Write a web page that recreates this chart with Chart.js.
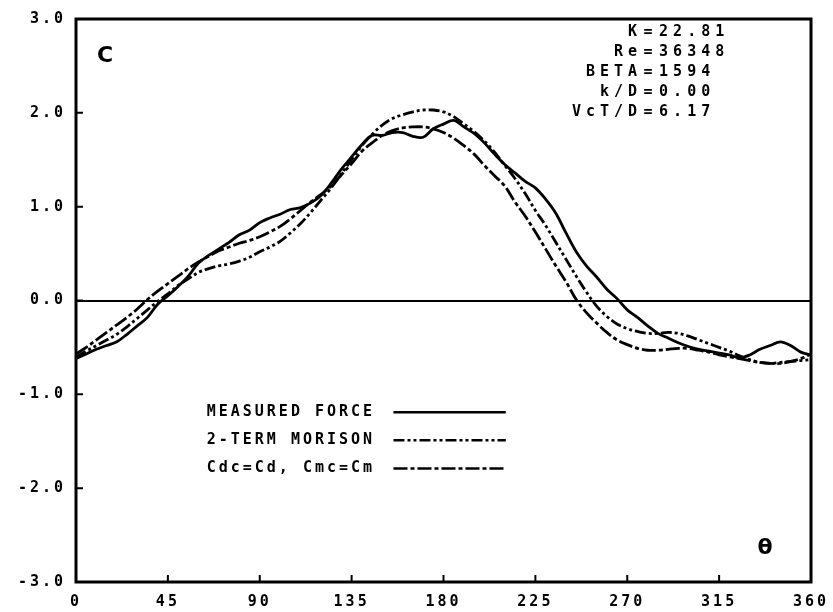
<!DOCTYPE html>
<html>
<head>
<meta charset="utf-8">
<script src="https://cdn.jsdelivr.net/npm/chart.js@4"></script>
<style>
  html, body { margin: 0; padding: 0; background: #fff; }
  #wrap { width: 833px; height: 612px; }
</style>
</head>
<body>
<div id="wrap"><canvas id="force-plot"></canvas></div>
<script>
const theta = [0, 5, 10, 15, 20, 25, 30, 35, 40, 45, 50, 55, 60, 65, 70, 75, 80, 85, 90, 95,
  100, 105, 110, 115, 120, 125, 130, 135, 140, 145, 150, 155, 160, 165, 170, 175, 180, 185, 190, 195,
  200, 205, 210, 215, 220, 225, 230, 235, 240, 245, 250, 255, 260, 265, 270, 275, 280, 285, 290, 295,
  300, 305, 310, 315, 320, 325, 330, 335, 340, 345, 350, 355, 360];

const measured = [-0.62, -0.57, -0.52, -0.48, -0.44, -0.36, -0.27, -0.18, -0.04, 0.05, 0.15, 0.26, 0.40, 0.48, 0.55, 0.62, 0.70, 0.75, 0.83, 0.88,
  0.92, 0.97, 0.99, 1.04, 1.12, 1.25, 1.40, 1.53, 1.66, 1.76, 1.76, 1.79, 1.79, 1.75, 1.74, 1.83, 1.88, 1.92, 1.85, 1.78,
  1.68, 1.56, 1.45, 1.36, 1.27, 1.20, 1.08, 0.93, 0.72, 0.52, 0.37, 0.25, 0.12, 0.02, -0.10, -0.18, -0.27, -0.35, -0.40, -0.45,
  -0.49, -0.52, -0.54, -0.56, -0.58, -0.61, -0.58, -0.52, -0.48, -0.44, -0.48, -0.55, -0.58];

const morison = [-0.60, -0.54, -0.48, -0.42, -0.36, -0.28, -0.19, -0.10, -0.01, 0.07, 0.16, 0.23, 0.30, 0.34, 0.37, 0.39, 0.42, 0.46, 0.52, 0.57,
  0.63, 0.72, 0.82, 0.94, 1.07, 1.20, 1.35, 1.50, 1.65, 1.77, 1.87, 1.94, 1.98, 2.01, 2.03, 2.03, 2.01, 1.96, 1.88, 1.80,
  1.70, 1.58, 1.44, 1.30, 1.14, 0.96, 0.80, 0.62, 0.44, 0.26, 0.09, -0.06, -0.17, -0.25, -0.30, -0.33, -0.35, -0.35, -0.34, -0.35,
  -0.38, -0.42, -0.46, -0.50, -0.54, -0.59, -0.63, -0.66, -0.67, -0.66, -0.65, -0.64, -0.63];

const cdcCmc = [-0.57, -0.50, -0.42, -0.34, -0.26, -0.18, -0.09, 0.01, 0.10, 0.18, 0.26, 0.34, 0.41, 0.47, 0.53, 0.57, 0.61, 0.64, 0.68, 0.73,
  0.79, 0.87, 0.96, 1.05, 1.13, 1.22, 1.34, 1.46, 1.59, 1.68, 1.76, 1.81, 1.84, 1.85, 1.85, 1.83, 1.79, 1.73, 1.65, 1.56,
  1.44, 1.33, 1.22, 1.05, 0.90, 0.73, 0.55, 0.37, 0.20, 0.01, -0.13, -0.24, -0.34, -0.42, -0.47, -0.51, -0.53, -0.53, -0.52, -0.51,
  -0.51, -0.53, -0.55, -0.58, -0.60, -0.62, -0.64, -0.66, -0.67, -0.67, -0.65, -0.62, -0.57];

const seriesNames = ["MEASURED FORCE", "2-TERM MORISON", "Cdc=Cd, Cmc=Cm"];
const xTicks = [0, 45, 90, 135, 180, 225, 270, 315, 360];
const yTicks = [-3, -2, -1, 0, 1, 2, 3];
const params = [["K", "22.81"], ["Re", "36348"], ["BETA", "1594"], ["k/D", "0.00"], ["VcT/D", "6.17"]];

const FONT = 'bold 15px "DejaVu Sans Mono", monospace';
const dashes = [[], [11, 3, 3, 3, 3, 3], [14, 3, 4, 3]];

function toPoints(ys) {
    return theta.map((t, i) => ({ x: t, y: ys[i] }));
}

// wide plotter-like lettering for the tick labels
const spacing = {
    id: 'spacing',
    beforeDraw(chart) {
        chart.ctx.letterSpacing = '3px';
    }
};

// frame, inward ticks, notes and legend
const decor = {
    id: 'decor',
    afterDraw(chart) {
        const ctx = chart.ctx;
        const a = chart.chartArea;
        const xs = chart.scales.x;
        const ys = chart.scales.y;
        ctx.save();
        ctx.strokeStyle = '#000';
        ctx.fillStyle = '#000';

        ctx.lineWidth = 3;
        ctx.strokeRect(a.left, a.top, a.right - a.left, a.bottom - a.top);

        ctx.lineWidth = 2;
        ctx.beginPath();
        xTicks.forEach(v => {
            const px = xs.getPixelForValue(v);
            ctx.moveTo(px, a.bottom);
            ctx.lineTo(px, a.bottom - 7);
        });
        yTicks.forEach(v => {
            const py = ys.getPixelForValue(v);
            ctx.moveTo(a.left, py);
            ctx.lineTo(a.left + 7, py);
        });
        ctx.stroke();

        ctx.letterSpacing = '0px';
        ctx.font = 'bold 22px "DejaVu Sans", sans-serif';
        ctx.textBaseline = 'middle';
        ctx.textAlign = 'center';
        ctx.fillText('C', xs.getPixelForValue(14.2), ys.getPixelForValue(2.6));
        ctx.fillText('\u03B8', xs.getPixelForValue(337.5), ys.getPixelForValue(-2.64));

        ctx.font = FONT;
        params.forEach((p, i) => {
            const py = ys.getPixelForValue(2.86 - i * 0.213);
            const px = xs.getPixelForValue(280.2);
            ctx.letterSpacing = '5px';
            ctx.textAlign = 'right';
            ctx.fillText(p[0], px - 6, py);
            ctx.textAlign = 'left';
            ctx.fillText(p[1], px + 11, py);
            ctx.letterSpacing = '0px';
            ctx.textAlign = 'center';
            ctx.fillText('=', px, py);
        });

        ctx.letterSpacing = '3px';
        seriesNames.forEach((name, i) => {
            const py = ys.getPixelForValue(-1.19 - i * 0.3);
            ctx.textAlign = 'left';
            ctx.fillText(name, xs.getPixelForValue(64), py);
            ctx.lineWidth = 2.5;
            ctx.setLineDash(dashes[i]);
            ctx.beginPath();
            ctx.moveTo(xs.getPixelForValue(155.5), py);
            ctx.lineTo(xs.getPixelForValue(210.5), py);
            ctx.stroke();
            ctx.setLineDash([]);
        });
        ctx.restore();
    }
};

function chartConfig() {
    return {
        type: 'line',
        data: {
            datasets: [measured, morison, cdcCmc].map((ys, i) => ({
                label: seriesNames[i],
                data: toPoints(ys),
                borderColor: '#000',
                borderWidth: 2.8,
                borderDash: dashes[i],
                pointRadius: 0,
                tension: 0.35,
                fill: false
            }))
        },
        options: {
            responsive: false,
            animation: false,
            layout: { padding: { left: 0, right: 22, top: 18, bottom: 0 } },
            plugins: { legend: { display: false }, tooltip: { enabled: false } },
            scales: {
                x: {
                    type: 'linear',
                    min: 0,
                    max: 360,
                    afterBuildTicks: s => { s.ticks = xTicks.map(v => ({ value: v })); },
                    afterFit: s => { s.height = 30; },
                    grid: { display: false },
                    border: { display: false },
                    ticks: { color: '#000', font: { family: 'DejaVu Sans Mono', size: 15, weight: 'bold' }, padding: 3, maxRotation: 0 }
                },
                y: {
                    min: -3,
                    max: 3,
                    afterBuildTicks: s => { s.ticks = yTicks.map(v => ({ value: v })); },
                    afterFit: s => { s.width = 76; },
                    grid: {
                        drawTicks: false,
                        lineWidth: 2,
                        color: c => c.tick && c.tick.value === 0 ? '#000' : 'rgba(0,0,0,0)'
                    },
                    border: { display: false },
                    ticks: {
                        color: '#000',
                        font: { family: 'DejaVu Sans Mono', size: 15, weight: 'bold' },
                        padding: 10,
                        callback: v => v.toFixed(1)
                    }
                }
            }
        },
        plugins: [spacing, decor]
    };
}

const canvas = document.getElementById('force-plot');
canvas.width = 833;
canvas.height = 612;
new Chart(canvas, chartConfig());
</script>
</body>
</html>
